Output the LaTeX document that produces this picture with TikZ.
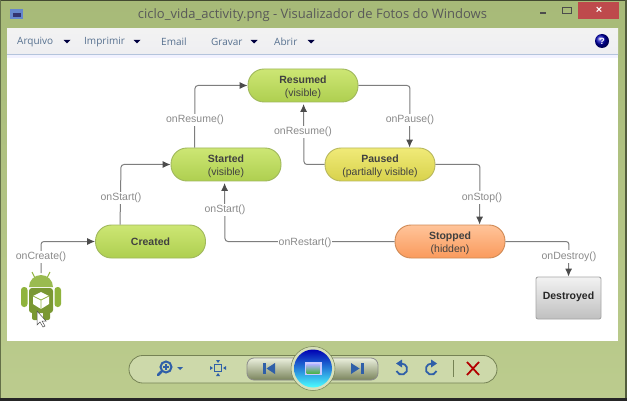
\documentclass[tikz,border=0pt]{standalone}
\usepackage{fontspec}
\setmainfont{Open Sans}
\newfontfamily\arialf{Liberation Sans}
\usetikzlibrary{arrows.meta,calc}
\definecolor{winA}{HTML}{A7BA78}
\definecolor{winB}{HTML}{BCCC8E}
\definecolor{linec}{HTML}{7E7E7E}
\definecolor{lab}{HTML}{8A8A8A}
\definecolor{iconb}{HTML}{2F5FA8}
\definecolor{gA}{HTML}{A0B85C}\definecolor{gB}{HTML}{CDE674}\definecolor{gC}{HTML}{AECF50}
\definecolor{yA}{HTML}{B8B85C}\definecolor{yB}{HTML}{F0EA78}\definecolor{yC}{HTML}{D8D24C}
\definecolor{oA}{HTML}{D08A55}\definecolor{oB}{HTML}{FFC49A}\definecolor{oC}{HTML}{FA9A5C}
\definecolor{andr}{HTML}{8FB33C}
\definecolor{menuc}{HTML}{56708F}
\definecolor{closec}{HTML}{BE4A4C}
\definecolor{barline}{HTML}{B4C4DC}
\newcommand\lowr[1]{\raisebox{-4.5pt}[0pt][0pt]{#1}}
\tikzset{
 x=1pt,y=-1pt,
 state/.style={rounded corners=16pt,minimum width=110pt,minimum height=33pt,inner sep=0pt,align=center,font=\arialf\fontsize{10.5}{12.5}\selectfont,text=black!75,line width=.9pt},
 gstate/.style={state,draw=gA,top color=gB,bottom color=gC},
 ystate/.style={state,draw=yA,top color=yB,bottom color=yC},
 ostate/.style={state,draw=oA,top color=oB,bottom color=oC},
 conn/.style={draw=linec,line width=1pt,rounded corners=3pt,-{Latex[length=8pt,width=7pt,color=black!70]}},
 lbl/.style={fill=white,inner xsep=1pt,inner ysep=1.5pt,font=\arialf\fontsize{10.5}{12}\selectfont,text=lab},
 menu/.style={font=\fontsize{10}{12}\selectfont,text=menuc,anchor=west,inner sep=0pt},
 icon/.style={draw=iconb,line width=1.5pt},
}
\begin{document}
\begin{tikzpicture}
\useasboundingbox (0,0) rectangle (627,401);
% window
\path[top color=winA,bottom color=winB] (0,0) rectangle (627,401);
\fill[black!60!winA] (0,0) rectangle (627,1.5);
\fill[black!85] (0,398) rectangle (627,401);
\fill[black!50!winA] (625,0) rectangle (627,398);
\fill[black!40!winA] (0,0) rectangle (1,398);
% title bar
\node[inner sep=0pt,font=\fontsize{13}{15}\selectfont,text=black!65] (title) at (312.5,15) {ciclo\_vida\_activity.png - Visualizador de Fotos do Windows};
\fill[black!70] (540,12) rectangle (546,13.6);
\draw[black!70,line width=1pt] (562.5,7.5) rectangle (571.5,14);
\fill[closec] (578,2) rectangle (619,19);
\node[inner sep=0pt,font=\arialf\bfseries\fontsize{11}{12}\selectfont,text=white] (closex) at (599,10.5) {×};
% icon in title
\fill[white!60!cyan!60!blue] (10,9) rectangle (23,19);
\fill[black!60!blue!60!gray] (13,13) rectangle (21,17);
% toolbar
\path[top color=black!5!white,bottom color=blue!10!gray!12!white] (7,29) rectangle (618,55);
\draw[barline,line width=.8pt] (7,54.5) -- (618,54.5);
\node[menu] (m1) at (17,42) {Arquivo};
\node[menu] (m2) at (84,42) {Imprimir};
\node[menu] (m3) at (161,42) {Email};
\node[menu] (m4) at (211,42) {Gravar};
\node[menu] (m5) at (274,42) {Abrir};
\foreach \xx in {67,137,254,311}{\fill[black!75!blue] (\xx-3.5,40) -- (\xx+3.5,40) -- (\xx,43.5) -- cycle;}
\shade[ball color=blue!70!black] (602,41) circle (7);
\node[inner sep=0pt,font=\arialf\bfseries\fontsize{9}{10}\selectfont,text=white] (help) at (602,41) {?};
% content
\fill[white] (7,55) rectangle (618,341);
\fill[blue!5!white] (7,55) rectangle (618,58);
% states
\node[gstate] (resumed) at (303,85.5) {\lowr{\textbf{Resumed}}\\\lowr{(visible)}};
\node[gstate] (started) at (226,164.5) {\lowr{\textbf{Started}}\\\lowr{(visible)}};
\node[ystate] (paused) at (380,164.5) {\lowr{\textbf{Paused}}\\\lowr{(partially visible)}};
\node[gstate] (created) at (150.5,241.5) {\textbf{Created}};
\node[ostate] (stopped) at (450,241.5) {\lowr{\textbf{Stopped}}\\\lowr{(hidden)}};
\node[draw=black!35,line width=.9pt,rounded corners=2pt,top color=black!5,bottom color=black!25,minimum width=65pt,minimum height=42pt,inner sep=0pt,font=\arialf\bfseries\fontsize{10.5}{12}\selectfont,text=black!85] (destroyed) at (568.5,298) {\raisebox{-1.5pt}[0pt][0pt]{Destroyed}};
% android icon
\coordinate (astart) at (41,273);
\begin{scope}[shift={(41,295)}]
 \fill[andr,rounded corners=3pt] (-20,-8) rectangle (-13.5,12);
 \fill[andr,rounded corners=3pt] (13.5,-8) rectangle (20,12);
 \fill[andr!85!black,rounded corners=2pt] (-9,14) rectangle (-2,25);
 \fill[andr!85!black,rounded corners=2pt] (2,14) rectangle (9,25);
 \draw[andr,line width=1pt] (-9,-23) -- (-6,-17) (9,-23) -- (6,-17);
 \fill[andr!90!white] (-12,-8) arc[start angle=180,end angle=0,x radius=12pt,y radius=12pt] -- cycle;
 \fill[andr!85!black,rounded corners=3pt] (-12,-7) rectangle (12,18);
 \fill[white] (0,-3) -- (8,1) -- (8,9) -- (0,14) -- (-8,9) -- (-8,1) -- cycle;
 \draw[andr,line width=.8pt] (-8,1) -- (0,5) -- (8,1) (0,5) -- (0,14);
 % pointer
 \fill[white,draw=black!70,line width=.5pt] (-4,16) -- (-4,30) -- (-1,27) -- (2,32) -- (4,31) -- (1,26) -- (5,26) -- cycle;
\end{scope}
% connectors
\draw[conn] (astart) -- (41,241.5) -- (created.west);
\draw[conn] ($(created.north west)+(25,0)$) -- (121,164.5) -- (started.west);
\draw[conn] ($(started.north west)+(24,0)$) -- (195,85.5) -- (resumed.west);
\draw[conn] (resumed.east) -- (410,85.5) -- ($(paused.north west)+(85,0)$);
\draw[conn] (paused.west) -- (304,164.5) -- ($(resumed.south west)+(56,1.5)$);
\draw[conn] (paused.east) -- (480,164.5) -- ($(stopped.north west)+(85,0)$);
\draw[conn] (stopped.west) -- (225,241.5) -- ($(started.south west)+(54,1.5)$);
\draw[conn] (stopped.east) -- (569,241.5) -- (destroyed.north);
% labels
\node[lbl] (l1) at (41,257) {onCreate()};
\node[lbl] (l2) at (121,198) {onStart()};
\node[lbl] (l3) at (195,120) {onResume()};
\node[lbl] (l4) at (303,132) {onResume()};
\node[lbl] (l5) at (410,120) {onPause()};
\node[lbl] (l6) at (482,197.5) {onStop()};
\node[lbl] (l7) at (225,210) {onStart()};
\node[lbl] (l8) at (305,243) {onRestart()};
\node[lbl] (l9) at (569,256.5) {onDestroy()};
% bottom controls
\draw[black!30!winA,fill=white!25!winB,line width=.8pt,rounded corners=13.7pt] (129,355.5) rectangle (497,383);
\draw[black!45,line width=.8pt,top color=white!70!winB,bottom color=black!35!winB,rounded corners=7pt] (247,358) rectangle (378,380);
\fill[white!40!winB,draw=black!30!winA,line width=.5pt] (313,368.5) circle (22pt);
\path[top color=blue!70!black,bottom color=cyan!70!white] (313,368.5) circle (19pt);
\fill[white!70!blue!70] (304.5,362) rectangle (321.5,375);
\path[top color=blue!30!white,bottom color=green!40!gray] (306.5,364) rectangle (319.5,373);
% zoom
\draw[icon,line width=2pt] (166,367) circle (5.5pt);
\draw[icon,line width=2.5pt,line cap=round] (161.5,371.5) -- (158,375);
\draw[iconb,line width=1.2pt] (163,367) -- (169,367) (166,364) -- (166,370);
\fill[iconb] (177,367) -- (183,367) -- (180,370) -- cycle;
% actual size
\draw[icon,line width=1.2pt] (214.5,364.5) rectangle (221.5,371.5);
\fill[iconb] (216,360) -- (220,360) -- (218,363) -- cycle (216,376) -- (220,376) -- (218,373) -- cycle (210,366) -- (210,370) -- (213,368) -- cycle (226,366) -- (226,370) -- (223,368) -- cycle;
% prev / next
\fill[iconb] (263,363) rectangle (265.5,374);
\fill[iconb] (275,363) -- (275,374) -- (266.5,368.5) -- cycle;
\fill[iconb] (361,363) rectangle (363.5,374);
\fill[iconb] (351,363) -- (351,374) -- (359.5,368.5) -- cycle;
% rotate
\draw[icon,line width=1.8pt] (396.5,371) arc[start angle=200,end angle=450,radius=5.5pt];
\fill[iconb] (396,363.5) -- (402,359.5) -- (402,367.5) -- cycle;
\draw[icon,line width=1.8pt] (436.5,371) arc[start angle=-20,end angle=-270,radius=5.5pt];
\fill[iconb] (437,363.5) -- (431,359.5) -- (431,367.5) -- cycle;
\draw[black!30!winA,line width=.8pt] (453.5,360) -- (453.5,377);
\draw[red!70!black,line width=1.8pt] (467,362) -- (479,375) (479,362) -- (467,375);
\end{tikzpicture}
\end{document}
